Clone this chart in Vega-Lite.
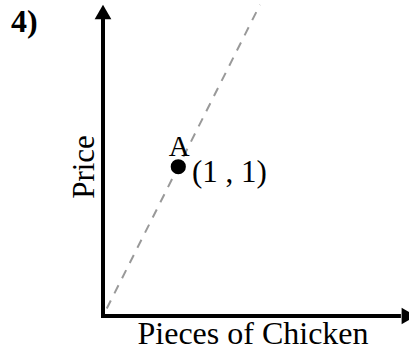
{
  "$schema": "https://vega.github.io/schema/vega-lite/v6.json",
  "width": 306,
  "height": 316,
  "autosize": {"type": "none"},
  "padding": {"left": 103, "top": 0, "right": 0, "bottom": 36},
  "background": "white",
  "config": {"view": {"stroke": null}},
  "title": {"text": "4)", "anchor": "start", "frame": "group", "font": "Liberation Serif", "fontSize": 32, "fontWeight": "bold", "color": "black", "offset": 0, "dx": -92, "dy": 64, "baseline": "alphabetic"},
  "datasets": {
    "guide": [{"x": 0.05, "y": 0.05}, {"x": 2.085, "y": 2.085}],
    "axes": [{"axis": "y", "x": 0, "y": 0, "x2": 0, "y2": 1.99}, {"axis": "x", "x": 0, "y": 0, "x2": 3.93, "y2": 0}],
    "arrows": [{"axis": "y", "x": 0, "y": 2.037}, {"axis": "x", "x": 4.062, "y": 0}],
    "points": [{"x": 1, "y": 1, "name": "A", "coord": "(1 , 1)"}]
  },
  "encoding": {
    "x": {"field": "x", "type": "quantitative", "scale": {"domain": [0, 4.064], "nice": false, "zero": false},
      "axis": {"title": "Pieces of Chicken", "domain": false, "ticks": false, "labels": false, "grid": false, "titleFont": "Liberation Serif", "titleFontSize": 32, "titleFontWeight": "normal", "titleColor": "black", "titleBaseline": "alphabetic", "titleAlign": "center", "titleX": 149.5, "titleY": 27}},
    "y": {"field": "y", "type": "quantitative", "scale": {"domain": [0, 2.117], "nice": false, "zero": false},
      "axis": {"title": "Price", "domain": false, "ticks": false, "labels": false, "grid": false, "titleFont": "Liberation Serif", "titleFontSize": 31, "titleFontWeight": "normal", "titleColor": "black", "titleBaseline": "alphabetic", "titleAlign": "center", "titleAngle": 270, "titleX": -10, "titleY": 166.5}}
  },
  "layer": [
    {"data": {"name": "guide"}, "mark": {"type": "line", "color": "#999999", "strokeWidth": 2, "strokeDash": [9, 8]}},
    {"data": {"name": "axes"}, "mark": {"type": "rule", "color": "black", "strokeWidth": 4, "strokeCap": "square"},
      "encoding": {"x2": {"field": "x2"}, "y2": {"field": "y2"}}},
    {"data": {"name": "arrows"}, "mark": {"type": "point", "filled": true, "color": "black", "opacity": 1, "size": 280},
      "encoding": {"shape": {"field": "axis", "type": "nominal", "scale": {"domain": ["x", "y"], "range": ["triangle-right", "triangle-up"]}, "legend": null}}},
    {"data": {"name": "points"}, "mark": {"type": "point", "filled": true, "color": "black", "opacity": 1, "size": 230, "shape": "circle"}},
    {"data": {"name": "points"}, "mark": {"type": "text", "font": "Liberation Serif", "fontSize": 29, "color": "black", "align": "center", "baseline": "alphabetic", "dx": 1, "dy": -11},
      "encoding": {"text": {"field": "name"}}},
    {"data": {"name": "points"}, "mark": {"type": "text", "font": "Liberation Serif", "fontSize": 31, "color": "black", "align": "left", "baseline": "alphabetic", "dx": 13.7, "dy": 15.3},
      "encoding": {"text": {"field": "coord"}}}
  ]
}
